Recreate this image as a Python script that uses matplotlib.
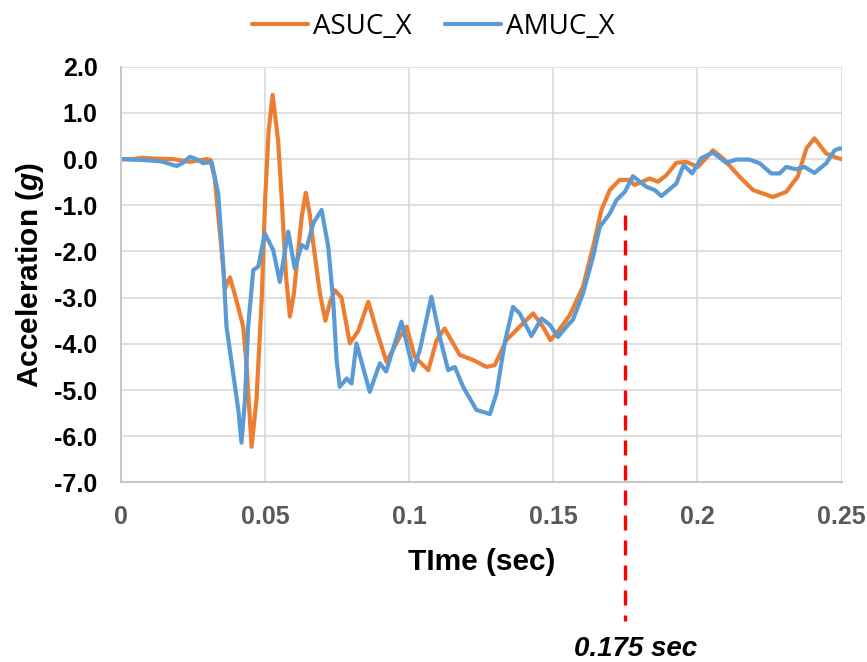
import numpy as np
import matplotlib
matplotlib.use("Agg")
import matplotlib.pyplot as plt

plt.rcParams['font.family'] = ['Liberation Sans', 'DejaVu Sans']
plt.rcParams['mathtext.fontset'] = 'custom'
plt.rcParams['mathtext.bfit'] = 'Liberation Sans:bold:italic'

# datos (tiempo en s, aceleracion en g)
asuc_t = [0.000, 0.004, 0.0076, 0.012, 0.018, 0.024, 0.0297, 0.031, 0.0325, 0.034,
          0.0361, 0.0378, 0.040, 0.0424, 0.0436, 0.0453, 0.047, 0.0488, 0.050, 0.0512,
          0.0526, 0.0545, 0.0557, 0.0572, 0.0586, 0.0600, 0.0609, 0.0627, 0.0641, 0.0655,
          0.0667, 0.069, 0.0709, 0.0725, 0.0742, 0.0765, 0.0794, 0.0823, 0.0858, 0.0886,
          0.0921, 0.0967, 0.0991, 0.1019, 0.1066, 0.1095, 0.1123, 0.1175, 0.1222, 0.1268,
          0.1297, 0.1337, 0.1383, 0.143, 0.1464, 0.1490, 0.1520, 0.1557, 0.1603, 0.1638,
          0.1667, 0.1696, 0.173, 0.1765, 0.1782, 0.1834, 0.1863, 0.1892, 0.1927, 0.1961,
          0.2002, 0.2054, 0.2088, 0.2146, 0.2193, 0.2262, 0.2308, 0.2348, 0.2378, 0.2406,
          0.2447, 0.2487, 0.250]
asuc_x = [0.00, 0.00, 0.03, 0.01, 0.00, -0.06, 0.00, -0.02, -0.40, -1.40,
          -2.80, -2.56, -3.05, -3.63, -4.50, -6.23, -5.20, -3.05, -0.89, 0.60,
          1.39, 0.40, -0.80, -2.50, -3.41, -2.90, -2.33, -1.25, -0.73, -1.20,
          -1.83, -2.90, -3.50, -3.10, -2.84, -3.00, -3.99, -3.72, -3.09, -3.70,
          -4.39, -3.85, -3.63, -4.28, -4.57, -3.92, -3.67, -4.24, -4.35, -4.50,
          -4.46, -3.92, -3.63, -3.34, -3.63, -3.92, -3.70, -3.38, -2.76, -1.90,
          -1.10, -0.67, -0.45, -0.45, -0.56, -0.42, -0.49, -0.35, -0.08, -0.06,
          -0.17, 0.19, 0.02, -0.38, -0.67, -0.82, -0.71, -0.38, 0.23, 0.45,
          0.12, 0.02, 0.00]

amuc_t = [0.000, 0.0076, 0.014, 0.0193, 0.0215, 0.0239, 0.0262, 0.0285, 0.0314, 0.0337,
          0.0343, 0.0355, 0.0366, 0.0389, 0.0407, 0.0418, 0.043, 0.0441, 0.0459, 0.0476,
          0.0499, 0.0528, 0.0551, 0.058, 0.0603, 0.0627, 0.0644, 0.0667, 0.0696, 0.0719,
          0.0736, 0.0748, 0.0759, 0.0783, 0.0800, 0.0817, 0.0863, 0.0898, 0.0920, 0.0973,
          0.1014, 0.1037, 0.1077, 0.1106, 0.1135, 0.1158, 0.1187, 0.1233, 0.128, 0.1303,
          0.1331, 0.136, 0.1383, 0.1424, 0.1459, 0.1488, 0.1516, 0.1551, 0.1568, 0.1603,
          0.1638, 0.1661, 0.1696, 0.1719, 0.1748, 0.1776, 0.1823, 0.1852, 0.1875, 0.1927,
          0.1952, 0.1982, 0.2013, 0.2054, 0.21, 0.2135, 0.2181, 0.2216, 0.2256, 0.2285,
          0.2308, 0.2343, 0.2372, 0.2406, 0.2447, 0.2476, 0.2493, 0.250]
amuc_x = [0.00, -0.02, -0.05, -0.15, -0.08, 0.05, 0.00, -0.09, -0.06, -0.74,
          -1.25, -2.33, -3.63, -4.64, -5.43, -6.14, -5.22, -3.63, -2.40, -2.33,
          -1.61, -1.97, -2.66, -1.57, -2.37, -1.86, -1.93, -1.39, -1.10, -1.90,
          -3.05, -4.35, -4.93, -4.75, -4.86, -3.99, -5.04, -4.42, -4.60, -3.52,
          -4.57, -4.13, -2.98, -3.85, -4.57, -4.50, -4.93, -5.43, -5.52, -5.07,
          -3.99, -3.20, -3.34, -3.83, -3.45, -3.59, -3.85, -3.59, -3.48, -2.91,
          -2.11, -1.47, -1.18, -0.89, -0.71, -0.37, -0.60, -0.67, -0.80, -0.53,
          -0.13, -0.31, 0.02, 0.14, -0.08, -0.01, -0.01, -0.09, -0.31, -0.31,
          -0.17, -0.22, -0.17, -0.30, -0.09, 0.19, 0.23, 0.23]

x_ticks = [0, 0.05, 0.1, 0.15, 0.2, 0.25]
x_labels = ['0', '0.05', '0.1', '0.15', '0.2', '0.25']
y_ticks = [2, 1, 0, -1, -2, -3, -4, -5, -6, -7]
y_labels = ['2.0', '1.0', '0.0', '-1.0', '-2.0', '-3.0', '-4.0', '-5.0', '-6.0', '-7.0']

t_marca = 0.175
marca_texto = '0.175 sec'

fig = plt.figure(figsize=(8.67, 6.62), dpi=100)
ax = fig.add_axes([0.1396, 0.2713, 0.8310, 0.6279])

ax.plot(asuc_t, asuc_x, color='#ED7D31', lw=3.0, label='ASUC_X',
        solid_capstyle='round', solid_joinstyle='round')
ax.plot(amuc_t, amuc_x, color='#5B9BD5', lw=3.0, label='AMUC_X',
        solid_capstyle='round', solid_joinstyle='round')

# linea discontinua roja en 0.175 s, sale por debajo del eje
ax.plot([t_marca, t_marca], [-1.2, -10.0], color='#FF0000', lw=2.4,
        dashes=(4.5, 3), clip_on=False, zorder=5)
ax.text(t_marca + 0.0036, -10.6, marca_texto, ha='center', va='center',
        fontsize=20, fontweight='bold', fontstyle='italic', clip_on=False)

ax.set_xlim(0, 0.25)
ax.set_ylim(-7, 2)
ax.set_xticks(x_ticks)
ax.set_xticklabels(x_labels)
ax.set_yticks(y_ticks)
ax.set_yticklabels(y_labels)
ax.tick_params(axis='both', length=0)
ax.tick_params(axis='x', pad=16, labelsize=18, labelcolor='#595959')
ax.tick_params(axis='y', pad=17, labelsize=18, labelcolor='black')
for lab in ax.get_xticklabels() + ax.get_yticklabels():
    lab.set_fontweight('bold')

ax.grid(True, color='#D9D9D9', lw=1.2)
ax.set_axisbelow(True)
for s in ['top', 'right']:
    ax.spines[s].set_visible(False)
for s in ['left', 'bottom']:
    ax.spines[s].set_color('#C8C8C8')
    ax.spines[s].set_linewidth(1.5)

ax.set_xlabel('TIme (sec)', fontsize=21.5, fontweight='bold', labelpad=14)
ax.set_ylabel(r'Acceleration ($\mathbfit{g}$)', fontsize=21.5, fontweight='bold', labelpad=6)

fig.legend(loc='upper center', bbox_to_anchor=(0.5, 1.0), ncol=2, frameon=False,
           prop={'family': 'Open Sans', 'size': 20}, handlelength=2.0,
           handletextpad=0.2, columnspacing=1.2, borderaxespad=0.05)

fig.savefig('out.png', dpi=100)
